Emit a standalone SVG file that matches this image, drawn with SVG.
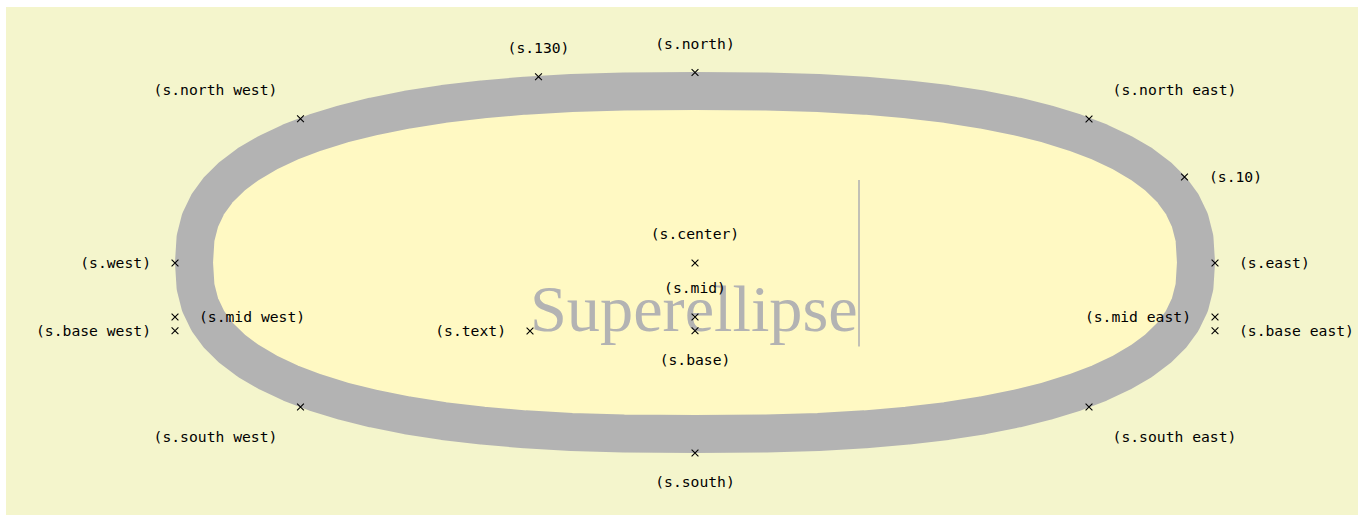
<svg xmlns="http://www.w3.org/2000/svg" xmlns:xlink="http://www.w3.org/1999/xlink" width="1364" height="515" viewBox="0 0 1364 515">
<style>
.bg{fill:#f4f5cc}
.shape{fill:#fff9c3;stroke:#b3b3b3;stroke-width:38;stroke-linejoin:round}
.big{font-family:"Liberation Serif","Times New Roman",serif;font-size:66.3px;fill:#b3b3b3}
.lbl{font-family:"DejaVu Sans Mono","Liberation Mono",monospace;font-size:14.7px;fill:#000}
.m{text-anchor:middle}
.e{text-anchor:end}
.x{stroke:#000;stroke-width:1.1;fill:none}
</style>
<defs>
<path id="cross" class="x" d="M-3.4,-3.4L3.4,3.4M-3.4,3.4L3.4,-3.4"/>
</defs>
<rect class="bg" x="6" y="7" width="1352" height="508"/>
<g id="s">
<polygon class="shape" points="1196,262.5 1194.47,238.15 1189.90,220.23 1182.30,204.33 1171.68,189.80 1158.08,176.40 1141.54,164.00 1122.10,152.57 1099.80,142.07 1074.69,132.53 1046.80,123.93 1016.15,116.30 982.75,109.64 946.54,103.98 907.36,99.32 864.92,95.69 818.48,93.09 766.13,91.52 695,91 623.87,91.52 571.52,93.09 525.08,95.69 482.64,99.32 443.46,103.98 407.25,109.64 373.85,116.30 343.20,123.93 315.31,132.53 290.20,142.07 267.90,152.57 248.46,164.00 231.92,176.40 218.32,189.80 207.70,204.33 200.10,220.23 195.53,238.15 194,262.5 195.53,286.85 200.10,304.77 207.70,320.67 218.32,335.20 231.92,348.60 248.46,361.00 267.90,372.43 290.20,382.93 315.31,392.47 343.20,401.07 373.85,408.70 407.25,415.36 443.46,421.02 482.64,425.68 525.08,429.31 571.52,431.91 623.87,433.48 695,434 766.13,433.48 818.48,431.91 864.92,429.31 907.36,425.68 946.54,421.02 982.75,415.36 1016.15,408.70 1046.80,401.07 1074.69,392.47 1099.80,382.93 1122.10,372.43 1141.54,361.00 1158.08,348.60 1171.68,335.20 1182.30,320.67 1189.90,304.77 1194.47,286.85"/>
<text class="big" x="530" y="331">Superellipse</text>
<line x1="859" y1="180" x2="859" y2="346.5" stroke="#b3b3b3" stroke-width="1.6"/>
</g>
<g id="connectors"/>
<g id="a-north"><use href="#cross" x="695" y="72.5"/><text class="lbl m" x="695" y="49">(s.north)</text></g>
<g id="a-130"><use href="#cross" x="538.5" y="76.7"/><text class="lbl m" x="538.5" y="53">(s.130)</text></g>
<g id="a-north-west"><use href="#cross" x="300.5" y="118.7"/><text class="lbl m" x="215.5" y="95">(s.north west)</text></g>
<g id="a-north-east"><use href="#cross" x="1089" y="119"/><text class="lbl m" x="1174.5" y="95">(s.north east)</text></g>
<g id="a-10"><use href="#cross" x="1184.5" y="177"/><text class="lbl" x="1209" y="182">(s.10)</text></g>
<g id="a-east"><use href="#cross" x="1215" y="263"/><text class="lbl" x="1239" y="268">(s.east)</text></g>
<g id="a-west"><use href="#cross" x="175" y="263"/><text class="lbl e" x="151" y="268">(s.west)</text></g>
<g id="a-mid-west"><use href="#cross" x="175" y="317"/><text class="lbl" x="199" y="322">(s.mid west)</text></g>
<g id="a-base-west"><use href="#cross" x="175" y="330.8"/><text class="lbl e" x="151" y="336">(s.base west)</text></g>
<g id="a-mid-east"><use href="#cross" x="1215" y="317"/><text class="lbl e" x="1191" y="322">(s.mid east)</text></g>
<g id="a-base-east"><use href="#cross" x="1215" y="330.8"/><text class="lbl" x="1239" y="336">(s.base east)</text></g>
<g id="a-center"><use href="#cross" x="695" y="263"/><text class="lbl m" x="695" y="239">(s.center)</text></g>
<g id="a-mid"><use href="#cross" x="695" y="317"/><text class="lbl m" x="695" y="293">(s.mid)</text></g>
<g id="a-base"><use href="#cross" x="695" y="330.8"/><text class="lbl m" x="695" y="365">(s.base)</text></g>
<g id="a-text"><use href="#cross" x="530" y="331"/><text class="lbl e" x="506" y="336">(s.text)</text></g>
<g id="a-south-west"><use href="#cross" x="300.5" y="407"/><text class="lbl m" x="215.5" y="442">(s.south west)</text></g>
<g id="a-south-east"><use href="#cross" x="1089" y="407"/><text class="lbl m" x="1174.5" y="442">(s.south east)</text></g>
<g id="a-south"><use href="#cross" x="695" y="453"/><text class="lbl m" x="695" y="487">(s.south)</text></g>
</svg>
